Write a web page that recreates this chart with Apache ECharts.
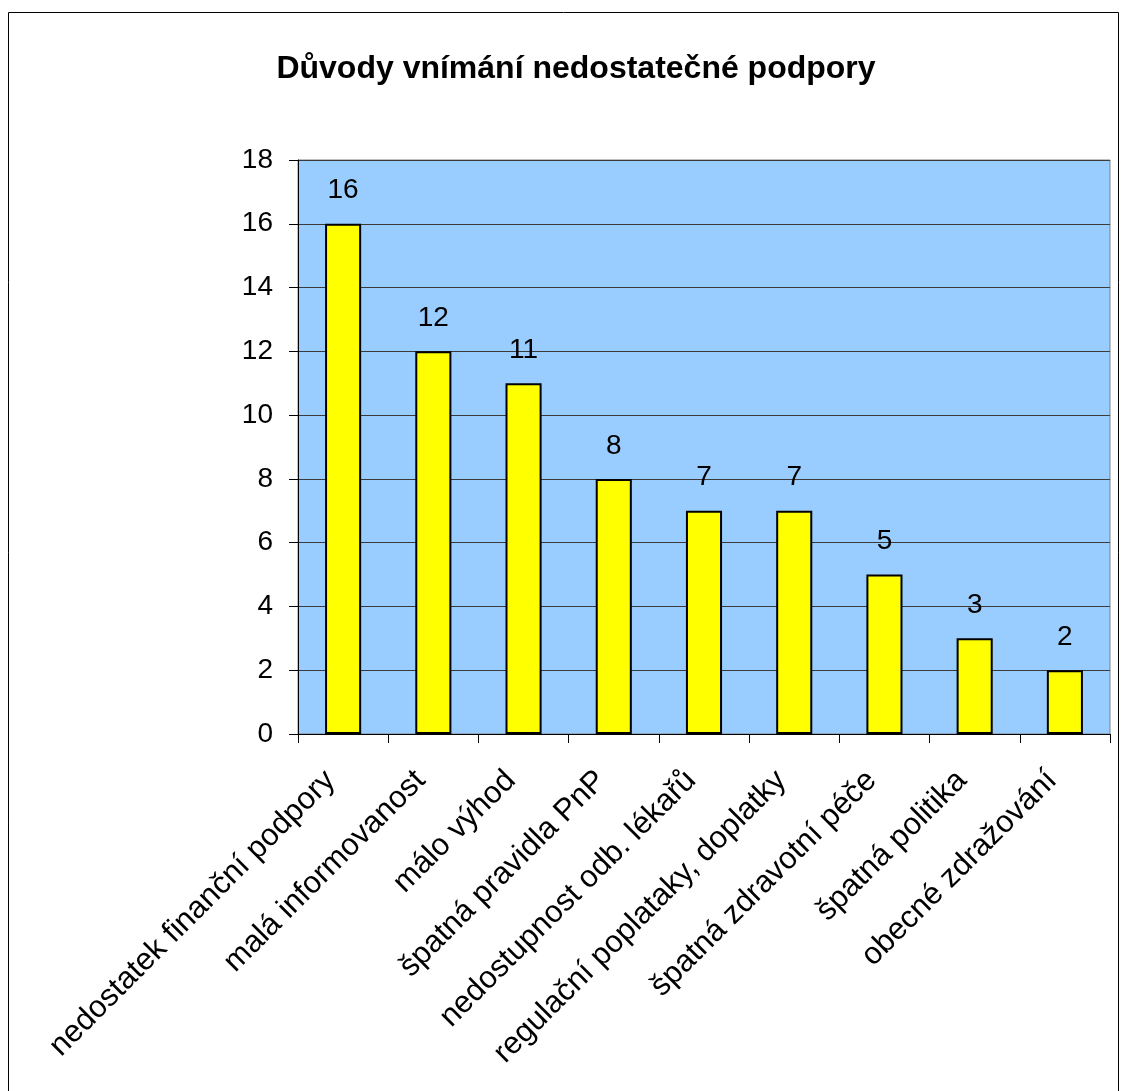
<!DOCTYPE html>
<html>
<head>
<meta charset="utf-8">
<script src="https://cdn.jsdelivr.net/npm/echarts@6/dist/echarts.min.js"></script>
<style>
  html, body { margin: 0; padding: 0; background: #fff; }
  #chart { width: 1121px; height: 1091px; }
</style>
</head>
<body>
<div id="chart"></div>
<script>
const categories = [
  'nedostatek finanční podpory',
  'malá informovanost',
  'málo výhod',
  'špatná pravidla PnP',
  'nedostupnost odb. lékařů',
  'regulační poplataky, doplatky',
  'špatná zdravotní péče',
  'špatná politika',
  'obecné zdražování'
]
const values = [16, 12, 11, 8, 7, 7, 5, 3, 2]
const titleText = 'Důvody vnímání nedostatečné podpory'

const chart = echarts.init(document.getElementById('chart'))
const option = {
  animation: false,
  backgroundColor: '#fff',
  textStyle: { fontFamily: 'Liberation Sans, Arial, sans-serif' },
  graphic: [
    {
      type: 'rect',
      shape: { x: 8.5, y: 12.5, width: 1110, height: 1090 },
      style: { fill: 'none', stroke: '#000', lineWidth: 1 }
    }
  ],
  title: {
    text: titleText,
    left: 571,
    top: 48,
    textAlign: 'center',
    textStyle: { fontSize: 32, fontWeight: 'bold', color: '#000' }
  },
  grid: {
    left: 298,
    top: 160,
    right: 11,
    bottom: 357,
    show: true,
    backgroundColor: '#99CCFF',
    borderColor: '#808080',
    borderWidth: 1
  },
  xAxis: {
    type: 'category',
    data: categories,
    axisLine: { lineStyle: { color: '#000', width: 1 } },
    axisTick: { show: true, length: 9, alignWithLabel: false, lineStyle: { color: '#000' } },
    axisLabel: { rotate: 45, interval: 0, fontSize: 31, color: '#000', margin: 29, padding: [0, 18, 0, 0] }
  },
  yAxis: {
    type: 'value',
    min: 0,
    max: 18,
    interval: 2,
    axisLine: { show: true, lineStyle: { color: '#000', width: 1 } },
    axisTick: { show: true, length: 9, lineStyle: { color: '#000' } },
    axisLabel: { fontSize: 28, color: '#000', margin: 25 },
    splitLine: { lineStyle: { color: '#3a3a3a', width: 1 } }
  },
  series: [
    {
      type: 'bar',
      data: values,
      barWidth: '40%',
      itemStyle: { color: '#FFFF00', borderColor: '#000', borderWidth: 2 },
      label: { show: true, position: 'top', distance: 19, fontSize: 28, color: '#000' }
    }
  ]
}
chart.setOption(option)
</script>
</body>
</html>
